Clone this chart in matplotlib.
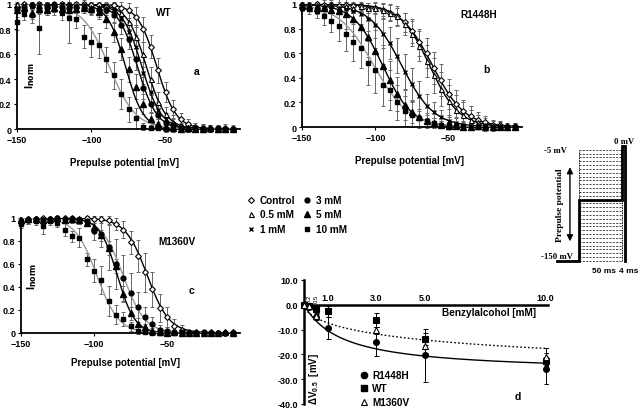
import numpy as np
import matplotlib
matplotlib.use("Agg")
import matplotlib.pyplot as plt
from matplotlib.lines import Line2D

plt.rcParams["font.family"] = ["Liberation Sans", "DejaVu Sans"]
plt.rcParams["font.weight"] = "bold"
plt.rcParams["axes.labelweight"] = "bold"
plt.rcParams["font.size"] = 7
plt.rcParams["mathtext.default"] = "regular"

# prepulse potentials (mV), one point every 5 mV
prepulse = list(range(-150, 0, 5))

# ---- panel a: WT ----
wt_names = ["Control", "0.5 mM", "1 mM", "3 mM", "5 mM", "10 mM"]
wt_ctrl = [0.98, 1.00, 0.99, 1.00, 0.99, 1.00, 1.00, 0.99, 1.00, 1.00,
           0.99, 0.99, 0.98, 0.99, 0.97, 0.95, 0.90, 0.80, 0.66, 0.47,
           0.30, 0.16, 0.08, 0.04, 0.02, 0.01, 0.01, 0.00, 0.01, 0.00]
wt_ctrl_err = [0.03, 0.02, 0.02, 0.02, 0.03, 0.02, 0.02, 0.03, 0.02, 0.03,
               0.03, 0.03, 0.04, 0.03, 0.05, 0.06, 0.08, 0.10, 0.09, 0.10,
               0.08, 0.07, 0.05, 0.04, 0.03, 0.03, 0.02, 0.02, 0.03, 0.02]
wt_05 = [1.00, 0.98, 1.00, 0.97, 0.99, 1.00, 0.98, 1.00, 0.99, 0.99,
         0.98, 0.98, 0.97, 0.96, 0.93, 0.86, 0.74, 0.60, 0.40, 0.22,
         0.12, 0.06, 0.03, 0.01, 0.01, 0.00, 0.01, 0.00, 0.00, 0.01]
wt_05_err = [0.02, 0.03, 0.02, 0.04, 0.03, 0.02, 0.03, 0.02, 0.03, 0.03,
             0.04, 0.03, 0.04, 0.05, 0.05, 0.07, 0.09, 0.10, 0.10, 0.08,
             0.06, 0.05, 0.04, 0.03, 0.02, 0.02, 0.02, 0.02, 0.02, 0.02]
wt_1 = [0.97, 0.99, 0.98, 1.00, 0.99, 0.98, 1.00, 0.99, 0.98, 0.99,
        0.97, 0.97, 0.96, 0.95, 0.88, 0.78, 0.66, 0.45, 0.30, 0.15,
        0.08, 0.04, 0.02, 0.01, 0.00, 0.01, 0.00, 0.00, 0.00, 0.00]
wt_1_err = [0.03, 0.02, 0.03, 0.02, 0.02, 0.03, 0.02, 0.02, 0.03, 0.03,
            0.04, 0.04, 0.05, 0.05, 0.06, 0.08, 0.09, 0.09, 0.08, 0.07,
            0.05, 0.04, 0.03, 0.02, 0.02, 0.02, 0.02, 0.02, 0.02, 0.02]
wt_3 = [0.96, 0.98, 0.99, 0.97, 0.98, 0.99, 0.98, 0.97, 0.98, 0.97,
        0.96, 0.95, 0.95, 0.91, 0.83, 0.72, 0.56, 0.33, 0.20, 0.11,
        0.05, 0.03, 0.01, 0.00, 0.01, 0.00, 0.00, 0.01, 0.00, 0.00]
wt_3_err = [0.03, 0.03, 0.02, 0.03, 0.03, 0.02, 0.03, 0.03, 0.03, 0.04,
            0.04, 0.05, 0.05, 0.06, 0.07, 0.08, 0.09, 0.09, 0.07, 0.05,
            0.04, 0.03, 0.03, 0.02, 0.02, 0.02, 0.02, 0.02, 0.02, 0.02]
wt_5 = [0.95, 0.97, 0.93, 0.96, 0.95, 0.97, 0.96, 0.95, 0.96, 0.97,
        0.96, 0.94, 0.88, 0.78, 0.64, 0.48, 0.34, 0.20, 0.08, 0.04,
        0.02, 0.01, 0.00, 0.01, 0.00, 0.00, 0.01, 0.00, 0.00, 0.00]
wt_5_err = [0.05, 0.04, 0.05, 0.04, 0.04, 0.03, 0.04, 0.04, 0.03, 0.04,
            0.05, 0.06, 0.07, 0.08, 0.09, 0.10, 0.10, 0.08, 0.06, 0.04,
            0.03, 0.02, 0.02, 0.02, 0.02, 0.02, 0.02, 0.02, 0.02, 0.02]
wt_10 = [0.86, 0.92, 0.91, 0.81, 0.95, 0.96, 0.93, 0.89, 0.88, 0.74,
         0.70, 0.67, 0.56, 0.43, 0.28, 0.16, 0.09, 0.02, 0.01, 0.01,
         0.00, 0.00, 0.00, 0.00, 0.00, 0.00, 0.00, 0.00, 0.00, 0.00]
wt_10_err = [0.07, 0.05, 0.06, 0.21, 0.04, 0.05, 0.06, 0.20, 0.07, 0.09,
             0.12, 0.10, 0.10, 0.11, 0.12, 0.10, 0.08, 0.03, 0.02, 0.02,
             0.02, 0.02, 0.02, 0.02, 0.02, 0.02, 0.02, 0.02, 0.02, 0.02]
wt_vhalf = [-56, -63, -66, -69, -77, -88]
wt_slope = [6.5, 6.5, 6.5, 6.5, 6.0, 9.0]

# ---- panel b: R1448H ----
r_names = ["Control", "0.5 mM", "1 mM", "5 mM", "10 mM"]
r_ctrl = [0.99, 0.99, 1.00, 0.99, 0.99, 0.98, 0.99, 0.98, 0.98, 0.97,
          0.97, 0.95, 0.93, 0.90, 0.85, 0.78, 0.69, 0.60, 0.48, 0.38,
          0.27, 0.19, 0.13, 0.09, 0.06, 0.04, 0.02, 0.02, 0.01, 0.01]
r_ctrl_err = [0.02, 0.02, 0.02, 0.02, 0.02, 0.02, 0.03, 0.03, 0.03, 0.04,
              0.04, 0.05, 0.06, 0.07, 0.08, 0.10, 0.11, 0.12, 0.13, 0.13,
              0.12, 0.11, 0.09, 0.08, 0.06, 0.05, 0.04, 0.03, 0.02, 0.02]
r_05 = [0.98, 0.97, 0.99, 0.98, 0.99, 0.97, 0.98, 0.97, 0.98, 0.97,
        0.97, 0.95, 0.93, 0.90, 0.84, 0.76, 0.66, 0.54, 0.42, 0.31,
        0.21, 0.14, 0.10, 0.06, 0.04, 0.02, 0.01, 0.01, 0.00, 0.01]
r_05_err = [0.03, 0.03, 0.02, 0.03, 0.02, 0.03, 0.03, 0.04, 0.04, 0.04,
            0.05, 0.06, 0.07, 0.08, 0.09, 0.10, 0.12, 0.13, 0.14, 0.14,
            0.13, 0.12, 0.10, 0.08, 0.06, 0.05, 0.04, 0.03, 0.02, 0.02]
r_1 = [0.98, 0.97, 0.98, 0.97, 0.98, 0.97, 0.96, 0.94, 0.92, 0.88,
       0.83, 0.76, 0.68, 0.58, 0.45, 0.35, 0.25, 0.17, 0.12, 0.08,
       0.05, 0.03, 0.02, 0.01, 0.01, 0.01, 0.00, 0.00, 0.00, 0.00]
r_1_err = [0.03, 0.03, 0.03, 0.04, 0.04, 0.05, 0.06, 0.07, 0.08, 0.10,
           0.11, 0.12, 0.13, 0.14, 0.14, 0.13, 0.12, 0.10, 0.08, 0.06,
           0.05, 0.04, 0.03, 0.02, 0.02, 0.02, 0.01, 0.01, 0.01, 0.01]
r_5 = [0.99, 0.98, 0.97, 0.97, 0.95, 0.94, 0.92, 0.88, 0.81, 0.73,
       0.62, 0.50, 0.38, 0.27, 0.18, 0.12, 0.08, 0.05, 0.03, 0.02,
       0.01, 0.01, 0.00, 0.00, 0.01, 0.00, 0.00, 0.00, 0.00, 0.00]
r_5_err = [0.03, 0.04, 0.05, 0.06, 0.08, 0.10, 0.12, 0.14, 0.15, 0.16,
           0.17, 0.17, 0.16, 0.14, 0.12, 0.09, 0.07, 0.05, 0.04, 0.03,
           0.02, 0.02, 0.01, 0.01, 0.01, 0.01, 0.01, 0.01, 0.01, 0.01]
r_10 = [0.97, 0.96, 0.94, 0.90, 0.86, 0.82, 0.76, 0.69, 0.64, 0.52,
        0.46, 0.34, 0.30, 0.20, 0.13, 0.10, 0.07, 0.05, 0.03, 0.02,
        0.02, 0.01, 0.01, 0.00, 0.00, 0.00, 0.00, 0.00, 0.00, 0.00]
r_10_err = [0.03, 0.04, 0.05, 0.07, 0.09, 0.12, 0.14, 0.15, 0.16, 0.18,
            0.18, 0.17, 0.16, 0.14, 0.12, 0.10, 0.08, 0.06, 0.04, 0.03,
            0.02, 0.02, 0.01, 0.01, 0.01, 0.01, 0.01, 0.01, 0.01, 0.01]
r_vhalf = [-61, -63, -82, -95, -101]
r_slope = [11, 10, 11, 10, 12]

# ---- panel c: M1360V ----
m_names = ["Control", "3 mM", "5 mM", "10 mM"]
m_ctrl = [0.96, 0.99, 0.99, 1.00, 0.99, 0.99, 1.00, 1.00, 0.99, 1.00,
          0.99, 0.99, 0.98, 0.95, 0.90, 0.79, 0.67, 0.53, 0.38, 0.22,
          0.14, 0.06, 0.03, 0.01, 0.01, 0.00, 0.01, 0.00, 0.00, 0.01]
m_ctrl_err = [0.02, 0.02, 0.02, 0.01, 0.02, 0.02, 0.01, 0.01, 0.02, 0.02,
              0.03, 0.03, 0.04, 0.05, 0.07, 0.10, 0.14, 0.17, 0.15, 0.12,
              0.09, 0.06, 0.04, 0.02, 0.02, 0.02, 0.01, 0.01, 0.01, 0.01]
m_3 = [0.97, 0.98, 0.99, 0.98, 0.99, 1.00, 0.99, 0.99, 0.98, 0.97,
       0.89, 0.86, 0.75, 0.60, 0.48, 0.35, 0.23, 0.14, 0.08, 0.03,
       0.02, 0.01, 0.01, 0.00, 0.00, 0.01, 0.00, 0.00, 0.00, 0.00]
m_3_err = [0.03, 0.03, 0.02, 0.03, 0.02, 0.02, 0.02, 0.03, 0.03, 0.04,
           0.08, 0.11, 0.20, 0.22, 0.20, 0.17, 0.13, 0.09, 0.06, 0.04,
           0.03, 0.02, 0.02, 0.01, 0.01, 0.01, 0.01, 0.01, 0.01, 0.01]
m_5 = [0.98, 0.99, 0.99, 0.98, 0.99, 1.00, 0.98, 0.99, 0.98, 0.96,
       0.92, 0.85, 0.74, 0.58, 0.34, 0.17, 0.08, 0.05, 0.02, 0.01,
       0.00, 0.01, 0.00, 0.00, 0.00, 0.00, 0.00, 0.00, 0.01, 0.00]
m_5_err = [0.02, 0.02, 0.02, 0.02, 0.02, 0.02, 0.02, 0.02, 0.03, 0.03,
           0.04, 0.05, 0.06, 0.06, 0.07, 0.06, 0.05, 0.03, 0.02, 0.02,
           0.01, 0.01, 0.01, 0.01, 0.01, 0.01, 0.01, 0.01, 0.01, 0.01]
m_10 = [0.95, 0.98, 0.97, 0.93, 0.97, 0.96, 0.90, 0.84, 0.83, 0.64,
        0.54, 0.46, 0.28, 0.16, 0.12, 0.06, 0.02, 0.01, 0.00, 0.00,
        0.00, 0.00, 0.00, 0.00, 0.00, 0.00, 0.00, 0.00, 0.00, 0.00]
m_10_err = [0.04, 0.03, 0.03, 0.07, 0.03, 0.04, 0.06, 0.05, 0.08, 0.06,
            0.10, 0.12, 0.13, 0.08, 0.06, 0.04, 0.03, 0.02, 0.01, 0.01,
            0.01, 0.01, 0.01, 0.01, 0.01, 0.01, 0.01, 0.01, 0.01, 0.01]
m_vhalf = [-63.5, -80, -84, -98]
m_slope = [7.5, 7.5, 6.0, 7.5]

# ---- panel d: shift of V0.5 vs benzylalcohol ----
conc_mM = [0, 0.2, 0.5, 1.0, 3.0, 5.0, 10.0]
r1448h_dv = [0.0, -0.8, -4.8, -9.3, -14.8, -20.4, -25.8]
r1448h_sd = [0.0, 0.4, 1.2, 4.5, 6.0, 10.8, 6.2]
wt_dv = [0.0, -0.3, -1.6, -2.7, -6.0, -13.7, -22.7]
wt_sd = [0.0, 0.3, 0.8, 2.2, 2.8, 2.5, 1.5]
m1360v_conc = [0, 0.2, 0.5, 3.0, 5.0, 10.0]
m1360v_dv = [0.0, -0.5, -4.5, -10.3, -16.6, -21.0]
m1360v_sd = [0.0, 0.3, 1.0, 1.5, 3.0, 3.5]
# saturating fits: max shift, half conc, hill coefficient
r1448h_fit = (27.3, 1.6, 1.0)
m1360v_fit = (33.0, 8.0, 0.6)

# ---- protocol inset ----
prepulse_ms = 50
test_ms = 4
test_mV = 0
holding_mV = -150
shown_prepulse_mV = -70

MARKERS = {
    "Control": dict(marker="D", ms=3.0, mfc="white", mec="k", mew=0.8),
    "0.5 mM": dict(marker="^", ms=3.6, mfc="white", mec="k", mew=0.8),
    "1 mM": dict(marker="x", ms=3.4, mec="k", mew=1.0),
    "3 mM": dict(marker="o", ms=3.5, mfc="k", mec="k"),
    "5 mM": dict(marker="^", ms=3.8, mfc="k", mec="k"),
    "10 mM": dict(marker="s", ms=3.3, mfc="k", mec="k"),
}


def boltzmann(v, vh, k):
    return 1.0 / (1.0 + np.exp((v - vh) / k))


def inactivation_panel(ax, names, values, errors, vhalf, slope, colors):
    v = np.array(prepulse)
    vv = np.linspace(-150, -5, 300)
    for name, y, e, vh, k, c in zip(names, values, errors, vhalf, slope, colors):
        eb = ax.errorbar(v, y, yerr=e, fmt="none", ecolor="0.4", elinewidth=0.7,
                         capsize=1.6, capthick=0.7, zorder=2)
        for art in list(eb.lines[1]) + list(eb.lines[2]):
            art.set_clip_on(False)
        ax.plot(vv, boltzmann(vv, vh, k), color=c, lw=1.0, zorder=3)
        ax.plot(v, y, ls="none", zorder=4, clip_on=False, **MARKERS[name])
    ax.set_xlim(-150, 0)
    ax.set_ylim(0, 1)
    ax.set_xticks([-150, -100, -50])
    ax.set_yticks([0, 0.2, 0.4, 0.6, 0.8, 1.0])
    ax.set_yticklabels(["0", "0.2", "0.4", "0.6", "0.8", "1"])
    for s in ("top", "right"):
        ax.spines[s].set_visible(False)
    for s in ("left", "bottom"):
        ax.spines[s].set_linewidth(1.3)
    ax.tick_params(labelsize=6.5, length=2, width=0.8, pad=2)


fig = plt.figure(figsize=(6.4, 4.1), dpi=100)

ax_a = fig.add_axes([17 / 640, 1 - 130 / 410, 223 / 640, 125 / 410])
inactivation_panel(ax_a, wt_names,
                   [wt_ctrl, wt_05, wt_1, wt_3, wt_5, wt_10],
                   [wt_ctrl_err, wt_05_err, wt_1_err, wt_3_err, wt_5_err, wt_10_err],
                   wt_vhalf, wt_slope, ["k", "k", "k", "k", "k", "0.6"])
ax_a.set_xlabel("Prepulse potential [mV]", fontsize=7)
ax_a.xaxis.set_label_coords(0.484, -0.22)
ax_a.text(0.058, 0.44, r"I$_{\rm norm}$", rotation=90, transform=ax_a.transAxes,
          ha="center", va="center", fontsize=8)
ax_a.text(0.66, 0.936, "WT", transform=ax_a.transAxes, ha="center", va="center", fontsize=7.2)
ax_a.text(0.807, 0.464, "a", transform=ax_a.transAxes, ha="center", va="center", fontsize=7.5)

ax_b = fig.add_axes([302 / 640, 1 - 128 / 410, 220 / 640, 123 / 410])
inactivation_panel(ax_b, r_names,
                   [r_ctrl, r_05, r_1, r_5, r_10],
                   [r_ctrl_err, r_05_err, r_1_err, r_5_err, r_10_err],
                   r_vhalf, r_slope, ["k", "k", "k", "k", "0.6"])
ax_b.set_xlabel("Prepulse potential [mV]", fontsize=7)
ax_b.xaxis.set_label_coords(0.49, -0.23)
ax_b.text(0.805, 0.92, "R1448H", transform=ax_b.transAxes, ha="center", va="center", fontsize=7.2)
ax_b.text(0.84, 0.47, "b", transform=ax_b.transAxes, ha="center", va="center", fontsize=7.5)

ax_c = fig.add_axes([21 / 640, 1 - 334 / 410, 219 / 640, 115 / 410])
inactivation_panel(ax_c, m_names,
                   [m_ctrl, m_3, m_5, m_10],
                   [m_ctrl_err, m_3_err, m_5_err, m_10_err],
                   m_vhalf, m_slope, ["k", "0.6", "k", "0.6"])
ax_c.set_xlabel("Prepulse potential [mV]", fontsize=7)
ax_c.xaxis.set_label_coords(0.475, -0.21)
ax_c.text(0.05, 0.5, r"I$_{\rm norm}$", rotation=90, transform=ax_c.transAxes,
          ha="center", va="center", fontsize=8)
ax_c.text(0.712, 0.80, "M1360V", transform=ax_c.transAxes, ha="center", va="center", fontsize=7.2)
ax_c.text(0.78, 0.374, "c", transform=ax_c.transAxes, ha="center", va="center", fontsize=7.5)

# concentration legend in the middle
handles = [Line2D([], [], ls="none", **MARKERS[n]) for n in
           ["Control", "0.5 mM", "1 mM", "3 mM", "5 mM", "10 mM"]]
fig.legend(handles, ["Control", "0.5 mM", "1 mM", "3 mM", "5 mM", "10 mM"],
           ncol=2, loc="upper left", bbox_to_anchor=(247 / 640, 1 - 196 / 410),
           frameon=False, fontsize=7.2, handlelength=0.8, handletextpad=0.5,
           columnspacing=0.7, labelspacing=0.45, borderpad=0, borderaxespad=0)

# ---- panel d ----
ax_d = fig.add_axes([304 / 640, 1 - 405 / 410, 244 / 640, 124 / 410])
cc = np.linspace(0, 10, 300)
a, k, n = r1448h_fit
ax_d.plot(cc, -a * cc ** n / (k ** n + cc ** n), color="k", lw=1.0, zorder=2)
a, k, n = m1360v_fit
ax_d.plot(cc, -a * cc ** n / (k ** n + cc ** n), color="k", lw=1.0, ls=(0, (1.2, 1.6)), zorder=2)
for x, y, e, mk in [(conc_mM, r1448h_dv, r1448h_sd, dict(marker="o", mfc="k", ms=4.2)),
                    (conc_mM, wt_dv, wt_sd, dict(marker="s", mfc="k", ms=4.2)),
                    (m1360v_conc, m1360v_dv, m1360v_sd, dict(marker="^", mfc="white", ms=4.6))]:
    ax_d.errorbar(x, y, yerr=e, fmt="none", ecolor="k", elinewidth=0.7, capsize=1.8,
                  capthick=0.7, zorder=3)
    ax_d.plot(x, y, ls="none", mec="k", mew=0.8, zorder=4, clip_on=False, **mk)
ax_d.set_xlim(0, 10.1)
ax_d.set_ylim(-40, 10)
ax_d.spines["right"].set_visible(False)
ax_d.spines["bottom"].set_visible(False)
ax_d.spines["top"].set_position(("data", 0))
ax_d.spines["top"].set_linewidth(1.8)
ax_d.spines["left"].set_linewidth(1.8)
ax_d.xaxis.set_ticks_position("top")
ax_d.set_xticks(conc_mM[1:])
ax_d.set_xticklabels(["0.2", "0.5", "1.0", "3.0", "5.0", "10.0"])
ax_d.tick_params(axis="x", direction="in", length=0, pad=2, labelsize=6.5)
for lab in ax_d.get_xticklabels()[:2]:
    lab.set_rotation(90)
    lab.set_fontsize(4.3)
    lab.set_fontweight("normal")
ax_d.set_yticks([10, 0, -10, -20, -30, -40])
ax_d.set_yticklabels(["10.0", "0.0", "-10.0", "-20.0", "-30.0", "-40.0"])
ax_d.tick_params(axis="y", direction="out", length=2.5, width=0.8, pad=1.5, labelsize=6.5)
ax_d.text(0.758, 0.742, "Benzylalcohol [mM]", transform=ax_d.transAxes,
          ha="center", va="center", fontsize=7.2)
ax_d.text(0.04, 0.21, r"$\Delta$V$_{0.5}$  [mV]", rotation=90, transform=ax_d.transAxes,
          ha="center", va="center", fontsize=7)
ax_d.text(0.877, 0.065, "d", transform=ax_d.transAxes, ha="center", va="center", fontsize=7.5)
d_handles = [Line2D([], [], ls="none", marker="o", mfc="k", mec="k", ms=4.5),
             Line2D([], [], ls="none", marker="s", mfc="k", mec="k", ms=4.5),
             Line2D([], [], ls="none", marker="^", mfc="white", mec="k", mew=0.8, ms=5)]
fig.legend(d_handles, ["R1448H", "WT", "M1360V"], loc="upper left",
           bbox_to_anchor=(360 / 640, 1 - 371 / 410), frameon=False, fontsize=7.2,
           handlelength=0.8, handletextpad=0.4, labelspacing=0.35, borderpad=0,
           borderaxespad=0)

# ---- pulse protocol inset ----
ax_p = fig.add_axes([540 / 640, 1 - 280 / 410, 100 / 640, 140 / 410])
ax_p.set_xlim(-45.3, 70.9)
ax_p.set_ylim(-173.5, 9.1)
ax_p.axis("off")
dash = (0, (3.0, 1.8))
for lvl in prepulse:
    ax_p.plot([0, prepulse_ms], [lvl, lvl], color="k", lw=0.5, ls=dash)
ax_p.plot([0, 0], [prepulse[0], prepulse[-1]], color="k", lw=0.6, ls=(0, (2, 1)))
ax_p.plot([prepulse_ms, prepulse_ms], [prepulse[0], prepulse[-1]], color="k", lw=0.6, ls=(0, (2, 1)))
trace_t = [-25, 0, 0, prepulse_ms, prepulse_ms, prepulse_ms + test_ms, prepulse_ms + test_ms]
trace_v = [holding_mV, holding_mV, shown_prepulse_mV, shown_prepulse_mV, test_mV, test_mV, holding_mV]
ax_p.plot(trace_t, trace_v, color="k", lw=2.0, solid_joinstyle="miter")
ax_p.annotate("", xy=(-10.5, -24), xytext=(-10.5, -128),
              arrowprops=dict(arrowstyle="<|-|>", color="k", lw=1.0, mutation_scale=9))
serif = ["Liberation Serif", "DejaVu Serif"]
ax_p.text(-22, -76, "Prepulse potential", rotation=90, ha="center", va="center",
          family=serif, fontsize=6.8)
ax_p.text(-14, -5, "-5 mV", ha="right", va="center", family=serif, fontsize=6.3)
ax_p.text(53, 1, "0 mV", ha="center", va="bottom", family=serif, fontsize=6.3)
ax_p.text(-7, -149, "-150 mV", ha="right", va="bottom", family=serif, fontsize=6.3)
ax_p.text(29, -163, "50 ms", ha="center", va="center", fontsize=6)
ax_p.text(58, -163, "4 ms", ha="center", va="center", fontsize=6)

fig.savefig("out.png", dpi=100)
